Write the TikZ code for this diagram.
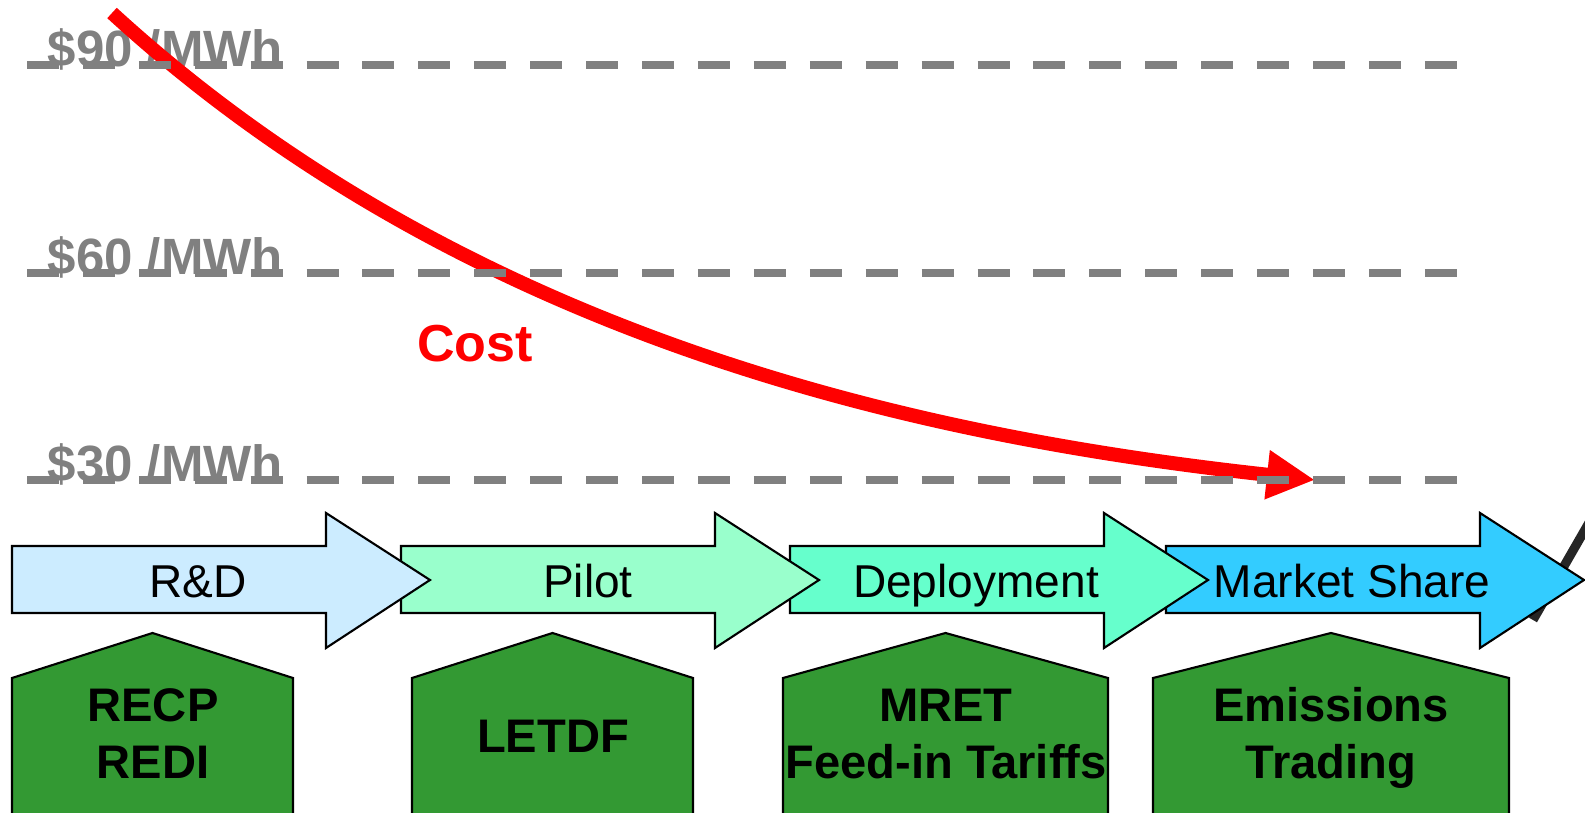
\documentclass[tikz,border=0pt]{standalone}
\usepackage{fontspec}
\setmainfont{Liberation Sans}
\usetikzlibrary{arrows.meta}
\definecolor{rdblue}{HTML}{CCECFF}
\definecolor{pilotgreen}{HTML}{99FFCC}
\definecolor{depgreen}{HTML}{66FFCC}
\definecolor{msblue}{HTML}{33CCFF}
\definecolor{pentgreen}{HTML}{339933}
\definecolor{pricegray}{HTML}{808080}
\begin{document}
\begin{tikzpicture}[x=0.01cm, y=-0.01cm,
  pricelbl/.style={anchor=base west, inner sep=0pt, text=pricegray, font=\fontsize{14.5}{17}\selectfont\bfseries},
  pricelevel/.style={pricegray, line width=2pt, dash pattern=on 9.1pt off 6.8pt},
  stagebox/.style={draw, line width=0.6pt, line join=miter},
  stagetext/.style={anchor=base, inner sep=0pt, font=\fontsize{13.1}{15}\selectfont},
  policytext/.style={anchor=base, inner sep=0pt, align=center, font=\fontsize{13.4}{16.2}\selectfont\bfseries}]
\useasboundingbox (0,0) rectangle (1585,813);

% stray stroke at the right edge
\draw[line width=2.6pt, black!85] (1533,620) -- (1590,521);

% stage arrows, drawn right to left so the heads sit on top
\foreach \sx/\sc in {1166/msblue, 790/depgreen, 401/pilotgreen, 12/rdblue}
  \draw[stagebox, fill=\sc] (\sx,546) -- ++(314,0) -- ++(0,-33) -- ++(104,67) -- ++(-104,68) -- ++(0,-35) -- ++(-314,0) -- cycle;
\node[stagetext] (rd) at (198,597) {R\&D};
\node[stagetext] (pilot) at (588,597) {Pilot};
\node[stagetext] (deploy) at (976,597) {Deployment};
\node[stagetext] (market) at (1352,597) {Market Share};

% policy houses
\foreach \l/\r in {12/293, 412/693, 783/1108, 1153/1509} {
  \fill[pentgreen] (\l,820) -- (\l,678) -- ({(\l+\r)/2},633) -- (\r,678) -- (\r,820) -- cycle;
  \draw[line width=0.6pt] (\l,820) -- (\l,678) -- ({(\l+\r)/2},633) -- (\r,678) -- (\r,820);
}
\node[policytext] (recp) at (153,778) {RECP\\REDI};
\node[policytext] (letdf) at (553,752) {LETDF};
\node[policytext] (mret) at (946,778) {MRET\\Feed-in Tariffs};
\node[policytext] (emis) at (1331,778) {Emissions\\Trading};

% price levels
\node[pricelbl] (p90) at (47,67) {\$90 /MWh};
\node[pricelbl] (p60) at (47,275) {\$60 /MWh};
\node[pricelbl] (p30) at (47,482) {\$30 /MWh};

% cost curve
\node[anchor=base, inner sep=0pt, text=red, font=\fontsize{14.8}{18}\selectfont\bfseries] (costlbl) at (475,362) {Cost};
\draw[red, line width=4pt, -{Triangle[length=13.7pt, width=13.1pt]}] (112,13) .. controls (480,350) and (950,440) .. (1315,480);

\draw[pricelevel] (27,65) -- (1459,65);
\draw[pricelevel] (27,273) -- (1459,273);
\draw[pricelevel] (27,480) -- (1459,480);
\end{tikzpicture}
\end{document}
